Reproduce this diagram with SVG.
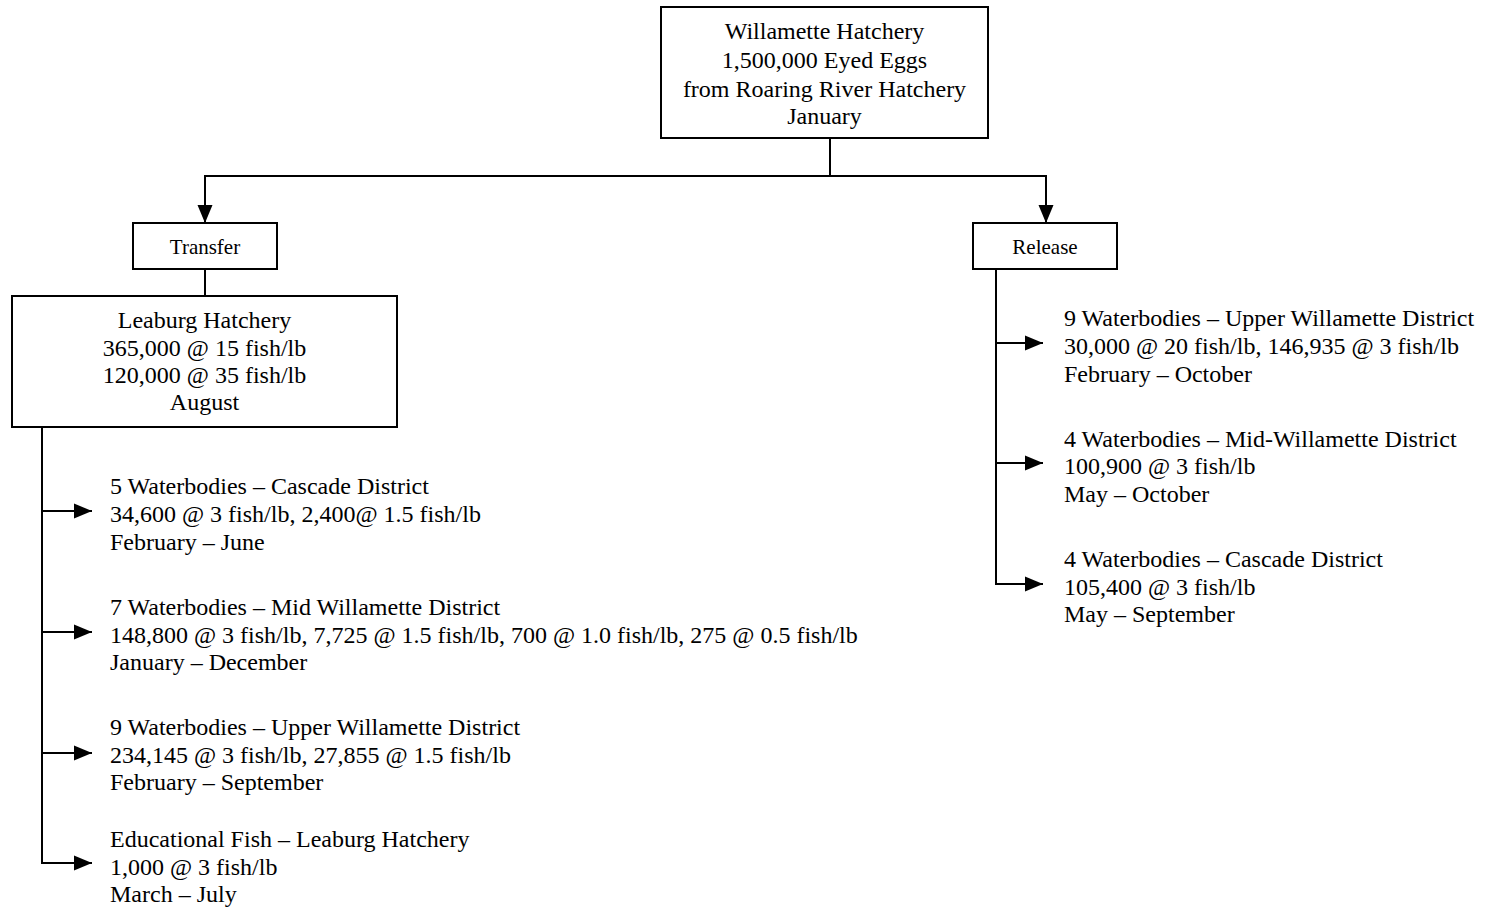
<svg xmlns="http://www.w3.org/2000/svg" width="1486" height="907" viewBox="0 0 1486 907">
<style>
.box{fill:#fff;stroke:#000;stroke-width:2}
.t{font-family:"Liberation Serif","Times New Roman",serif;font-size:24px;fill:#000}
.s{font-size:21px}
.c{text-anchor:middle}
.ln{fill:none;stroke:#000;stroke-width:2}
</style>
<defs>
<marker id="ah" markerUnits="userSpaceOnUse" markerWidth="18" markerHeight="16" refX="18" refY="8" orient="auto">
<path d="M0,0.5 L18,8 L0,15.5 z" fill="#000"/>
</marker>
</defs>
<rect width="1486" height="907" fill="#fff"/>
<g id="connectors">
<line class="ln" x1="830" y1="138" x2="830" y2="176"/>
<line class="ln" x1="204" y1="176" x2="1047" y2="176"/>
<line class="ln" x1="205" y1="175" x2="205" y2="223" marker-end="url(#ah)"/>
<line class="ln" x1="1046" y1="175" x2="1046" y2="223" marker-end="url(#ah)"/>
<line class="ln" x1="205" y1="269" x2="205" y2="296"/>
<polyline class="ln" points="42,427 42,863 92,863" marker-end="url(#ah)"/>
<line class="ln" x1="42" y1="511" x2="92" y2="511" marker-end="url(#ah)"/>
<line class="ln" x1="42" y1="632" x2="92" y2="632" marker-end="url(#ah)"/>
<line class="ln" x1="42" y1="753" x2="92" y2="753" marker-end="url(#ah)"/>
<polyline class="ln" points="996,269 996,584 1043,584" marker-end="url(#ah)"/>
<line class="ln" x1="996" y1="343" x2="1043" y2="343" marker-end="url(#ah)"/>
<line class="ln" x1="996" y1="463" x2="1043" y2="463" marker-end="url(#ah)"/>
</g>
<g id="willamette">
<rect class="box" x="661" y="7" width="327" height="131"/>
<text class="t c" x="824.5" y="39">Willamette Hatchery</text>
<text class="t c" x="824.5" y="68">1,500,000 Eyed Eggs</text>
<text class="t c" x="824.5" y="97">from Roaring River Hatchery</text>
<text class="t c" x="824.5" y="124">January</text>
</g>
<g id="transfer">
<rect class="box" x="133" y="223" width="144" height="46"/>
<text class="t s c" x="205" y="254">Transfer</text>
</g>
<g id="release">
<rect class="box" x="973" y="223" width="144" height="46"/>
<text class="t s c" x="1045" y="254">Release</text>
</g>
<g id="leaburg">
<rect class="box" x="12" y="296" width="385" height="131"/>
<text class="t c" x="204.5" y="328">Leaburg Hatchery</text>
<text class="t c" x="204.5" y="356">365,000 @ 15 fish/lb</text>
<text class="t c" x="204.5" y="383">120,000 @ 35 fish/lb</text>
<text class="t c" x="204.5" y="410">August</text>
</g>
<g id="cascade-left">
<text class="t" x="110" y="494">5 Waterbodies – Cascade District</text>
<text class="t" x="110" y="522">34,600 @ 3 fish/lb, 2,400@ 1.5 fish/lb</text>
<text class="t" x="110" y="550">February – June</text>
</g>
<g id="mid-left">
<text class="t" x="110" y="615">7 Waterbodies – Mid Willamette District</text>
<text class="t" x="110" y="643">148,800 @ 3 fish/lb, 7,725 @ 1.5 fish/lb, 700 @ 1.0 fish/lb, 275 @ 0.5 fish/lb</text>
<text class="t" x="110" y="670">January – December</text>
</g>
<g id="upper-left">
<text class="t" x="110" y="735">9 Waterbodies – Upper Willamette District</text>
<text class="t" x="110" y="763">234,145 @ 3 fish/lb, 27,855 @ 1.5 fish/lb</text>
<text class="t" x="110" y="790">February – September</text>
</g>
<g id="educational">
<text class="t" x="110" y="847">Educational Fish – Leaburg Hatchery</text>
<text class="t" x="110" y="875">1,000 @ 3 fish/lb</text>
<text class="t" x="110" y="902">March – July</text>
</g>
<g id="upper-right">
<text class="t" x="1064" y="326">9 Waterbodies – Upper Willamette District</text>
<text class="t" x="1064" y="354">30,000 @ 20 fish/lb, 146,935 @ 3 fish/lb</text>
<text class="t" x="1064" y="382">February – October</text>
</g>
<g id="mid-right">
<text class="t" x="1064" y="447">4 Waterbodies – Mid-Willamette District</text>
<text class="t" x="1064" y="474">100,900 @ 3 fish/lb</text>
<text class="t" x="1064" y="502">May – October</text>
</g>
<g id="cascade-right">
<text class="t" x="1064" y="567">4 Waterbodies – Cascade District</text>
<text class="t" x="1064" y="595">105,400 @ 3 fish/lb</text>
<text class="t" x="1064" y="622">May – September</text>
</g>
</svg>
